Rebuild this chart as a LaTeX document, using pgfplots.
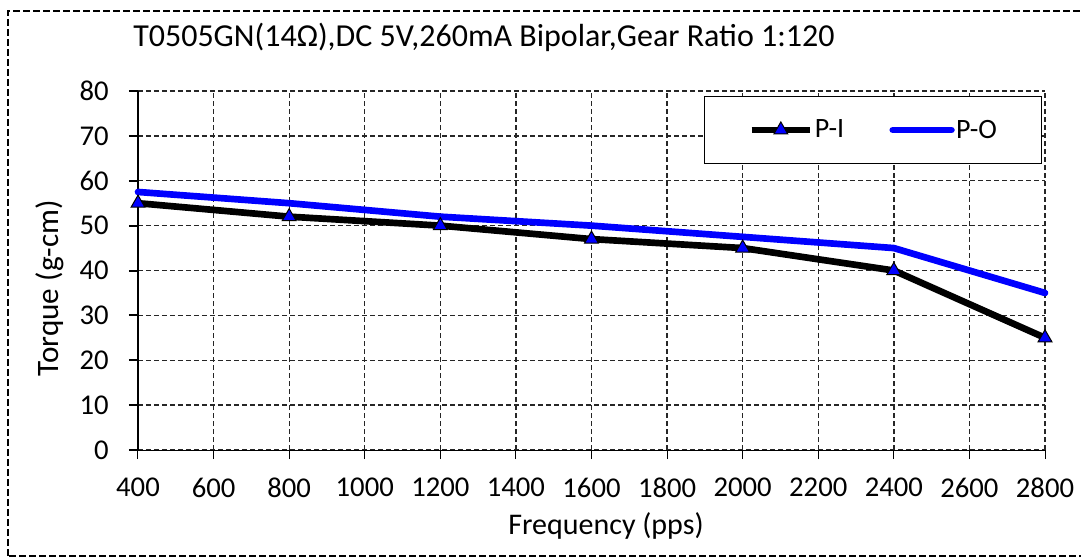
\documentclass[border=0pt]{standalone}
\usepackage{pgfplots}
\pgfplotsset{compat=1.18}
\usepackage{fontspec}
\setmainfont{Carlito}

\newcommand{\tickfont}{\fontsize{21.5}{25}\selectfont}

\begin{document}
\begin{tikzpicture}
\useasboundingbox (-103.5pt,-80.25pt) rectangle (707.25pt,337.5pt);
\begin{axis}[
    scale only axis,
    width=680.25pt, height=269.25pt,
    xmin=400, xmax=2800,
    ymin=0, ymax=80,
    xtick={400,600,...,2800},
    ytick={0,10,...,80},
    axis x line=bottom,
    axis y line=left,
    x axis line style={-, line width=0.75pt},
    y axis line style={-, line width=1.5pt},
    xtick style={line width=0.75pt, black},
    ytick style={line width=1.5pt, black},
    tick align=outside,
    major tick length=6.75pt,
    grid=major,
    major grid style={black!85, line width=1pt, dash pattern=on 3.75pt off 2.25pt},
    /pgf/number format/assume math mode=true,
    /pgf/number format/1000 sep={},
    xticklabel style={font=\tickfont, inner sep=0pt},
    yticklabel style={font=\tickfont, inner sep=0pt},
    xticklabel shift=14.25pt,
    yticklabel shift=15pt,
    xlabel={Frequency (pps)},
    ylabel={Torque (g-cm)},
    xlabel style={font=\fontsize{22.5}{27}\selectfont, inner sep=0pt,
        at={(axis description cs:0.516,-0.234)}, anchor=base},
    ylabel style={font=\fontsize{23.4}{28}\selectfont, inner sep=0pt,
        at={(axis description cs:-0.0882,0.451)}, anchor=base},
    clip=false,
    legend columns=2,
    legend style={at={(0.9967,0.986)}, anchor=north east,
        draw=black, line width=0.75pt, fill=white,
        inner xsep=32.5pt, inner ysep=16.5pt,
        font=\fontsize{21}{25}\selectfont,
        nodes={inner sep=1pt},
        /tikz/every even column/.append style={column sep=33pt}},
    legend image code/.code={
        \draw[mark repeat=2, mark phase=2, #1]
            plot coordinates {(0pt,0pt) (22pt,0pt) (44pt,0pt)};},
]
\addplot[black, line width=5pt, mark=triangle*,
    mark options={fill=blue, draw=black, line width=0.75pt, solid}, mark size=6pt]
    coordinates {
      (400,55) (800,52) (1200,50) (1600,47) (2000,45) (2400,40) (2800,25)
    };
\addplot[blue, line width=5pt, line cap=round]
    coordinates {
      (400,57.5) (800,55) (1200,52) (1600,50) (2000,47.5) (2400,45) (2800,35)
    };
\legend{P-I, P-O}
\end{axis}
% dashed chart frame and title
\draw[line width=1.5pt, dash pattern=on 5.25pt off 2.25pt]
    (-97.5pt,-79.5pt) rectangle (712pt,328.9pt);
\node[anchor=base west, inner sep=0pt, font=\fontsize{24}{28}\selectfont]
    at (-3.75pt,302.25pt) {T0505GN(14Ω),DC 5V,260mA Bipolar,Gear Ratio 1:120};
\end{tikzpicture}
\end{document}
